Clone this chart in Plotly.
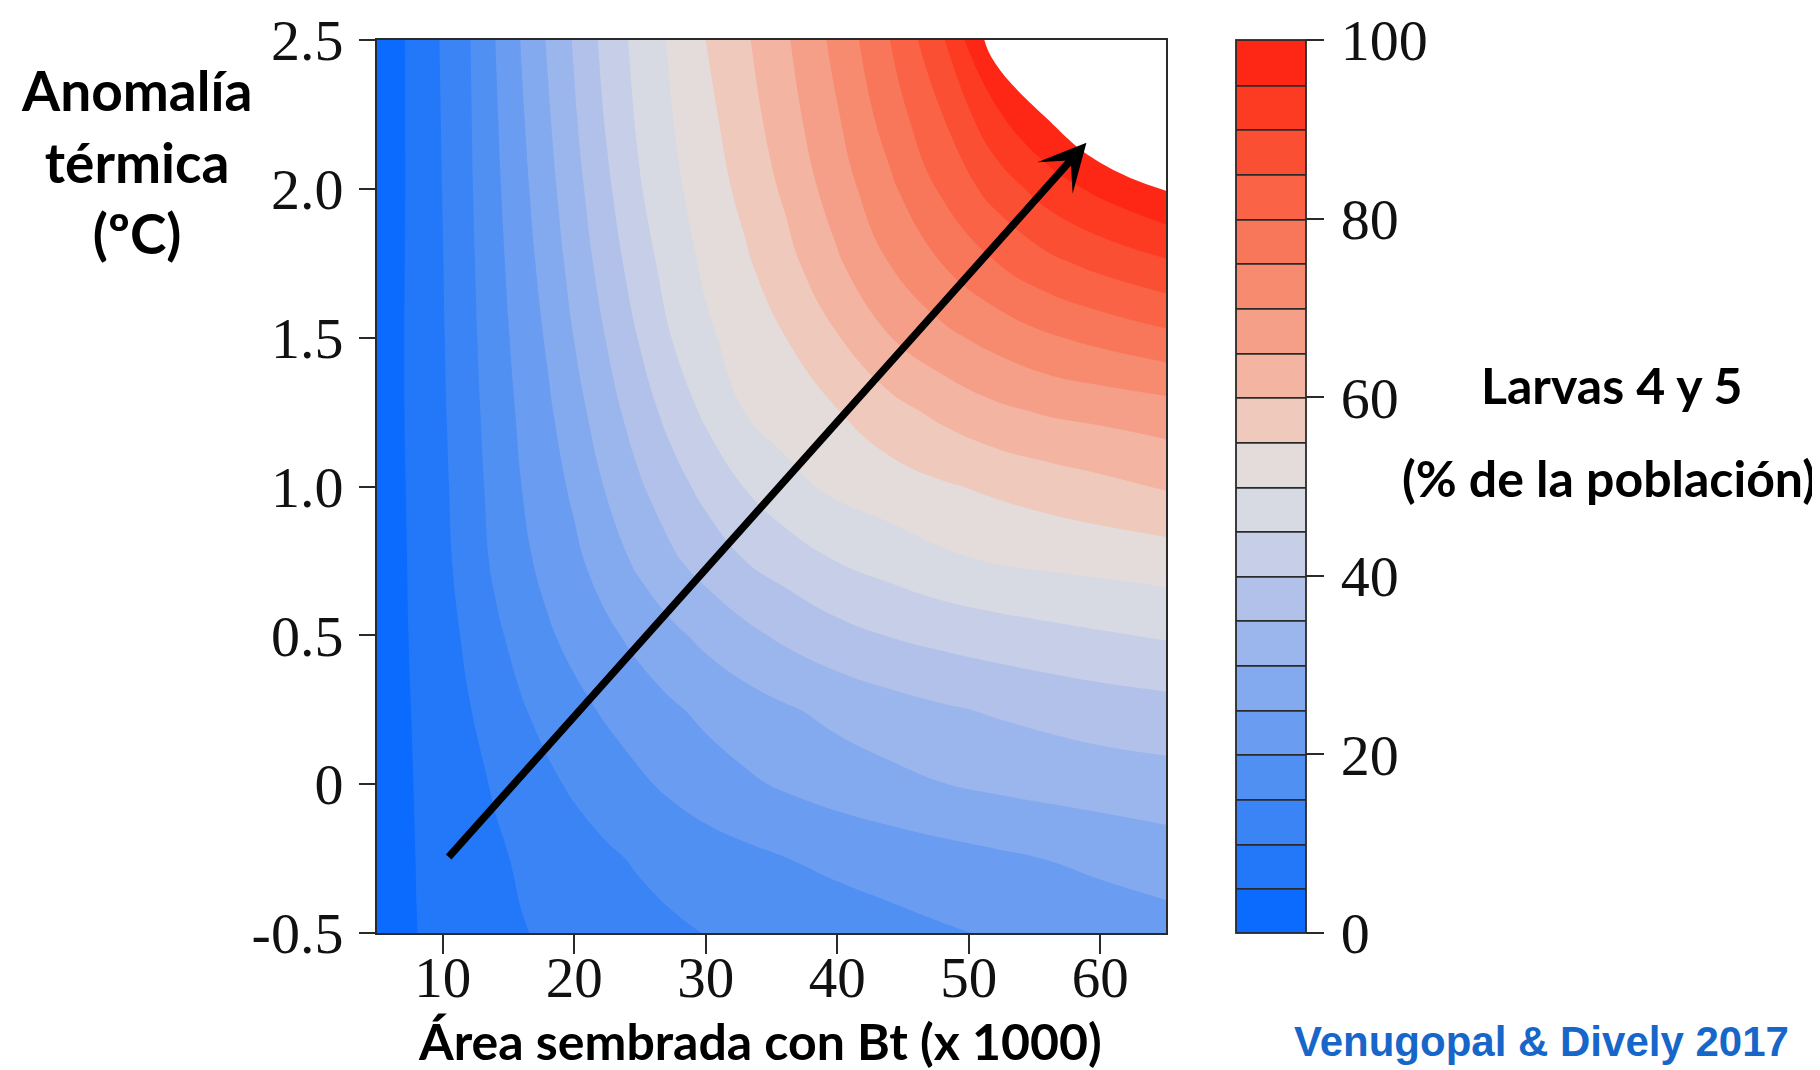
import plotly.graph_objects as go

# ---------------- data ----------------
area_bt = [5, 6.5, 8, 10, 12, 14, 16, 18, 20, 22.5, 25, 27.5, 30, 33, 36, 40, 44, 48, 52, 56, 60, 65]
temp_anom = [-0.5, -0.25, 0.0, 0.25, 0.5, 0.75, 1.0, 1.25, 1.5, 1.75, 2.0, 2.25, 2.5]

larvae_m050 = [2.2, 3.8, 4.95, 6.1, 7.35, 8.55, 9.75, 10.6, 11.4, 12.3, 13.3, 14.3, 15.1, 15.8, 16.6, 17.5, 18.5, 19.5, 20.4, 21.5, 22.2, 23]
larvae_m025 = [1.8, 3.7, 5.07, 6.5, 7.9, 9.3, 10.6, 11.8, 12.9, 14.3, 15.6, 16.7, 17.7, 18.8, 19.9, 21.1, 22.1, 23.1, 24.1, 25.1, 26.1, 27.5]
larvae_000 = [1.5, 3.6, 5.26, 7.0, 8.7, 10.45, 12.3, 14.1, 15.7, 17.5, 19.3, 21.0, 22.6, 24.2, 25.6, 27.2, 28.6, 29.9, 30.9, 31.7, 32.4, 33]
larvae_025 = [1.5, 3.7, 5.5, 7.66, 9.8, 12.2, 14.6, 16.6, 18.6, 20.7, 22.6, 24.4, 26.1, 27.8, 29.4, 31.4, 33.0, 34.4, 35.5, 36.5, 37.4, 38.2]
larvae_050 = [1.5, 3.9, 5.75, 8.25, 10.9, 14.1, 16.8, 19.4, 21.5, 24.0, 26.5, 29.0, 31.25, 33.75, 35.97, 38.4, 40.2, 41.5, 42.6, 43.6, 44.5, 45.5]
larvae_075 = [1.5, 3.9, 6.0, 8.8, 12.2, 15.9, 18.9, 21.5, 23.9, 27.5, 31.1, 34.3, 37.0, 40.0, 42.2, 45.1, 47.0, 49.0, 50.3, 51.0, 51.6, 52.4]
larvae_100 = [1.5, 4.0, 6.2, 9.1, 12.85, 16.6, 20.0, 22.9, 25.9, 30.5, 34.5, 38.1, 41.5, 45.2, 48.4, 51.1, 52.8, 54.45, 55.9, 57.3, 58.7, 60.45]
larvae_125 = [1.5, 4.1, 6.4, 9.45, 13.3, 17.25, 20.9, 24.2, 28.15, 33.0, 37.6, 41.9, 45.9, 50.05, 52.1, 54.8, 58.2, 61.2, 63.8, 65.5, 66.4, 67.6]
larvae_150 = [1.5, 4.1, 6.45, 9.7, 13.7, 17.9, 21.8, 25.65, 30.1, 35.3, 40.4, 45.2, 49.1, 52.2, 54.9, 59.7, 64.85, 68.7, 71.7, 74.4, 76.4, 78.7]
larvae_175 = [1.5, 4.0, 6.46, 9.9, 14.0, 18.45, 22.7, 27.1, 31.8, 37.4, 42.8, 47.3, 50.9, 54.3, 58.2, 64.35, 70.1, 75.1, 79.8, 83.7, 86.5, 89.3]
larvae_200 = [1.5, 3.9, 6.46, 10.1, 14.3, 19.0, 23.6, 28.4, 33.2, 39.2, 44.7, 48.9, 52.4, 56.4, 60.8, 67.5, 74.0, 80.8, 87.0, 92.3, 96.25, 100.3]
larvae_225 = [1.5, 3.9, 6.5, 10.3, 14.5, 19.5, 24.5, 29.5, 34.5, 40.7, 46.0, 50.0, 53.7, 58.0, 62.8, 69.7, 77.4, 85.0, 94.0, 100.6, 107, 115]
larvae_250 = [1.5, 3.9, 6.56, 10.5, 14.7, 20.0, 25.3, 30.5, 35.5, 41.8, 46.8, 50.8, 55.0, 59.3, 64.2, 71.5, 80.0, 89.4, 102.7, 109, 116, 124]

larvae_pct = [larvae_m050, larvae_m025, larvae_000, larvae_025, larvae_050, larvae_075,
              larvae_100, larvae_125, larvae_150, larvae_175, larvae_200, larvae_225, larvae_250]

x_ticks = [10, 20, 30, 40, 50, 60]
y_ticks = [-0.5, 0, 0.5, 1.0, 1.5, 2.0, 2.5]
y_ticklabels = ["-0.5", "0", "0.5", "1.0", "1.5", "2.0", "2.5"]
cb_ticks = [0, 20, 40, 60, 80, 100]

# arrow (tail -> head) in data units
arrow_tail = (10.35, -0.25)
arrow_head = (58.95, 2.155)

# 20 band colours: 0-5 ... 95-100
band_colors = [
    "#0b6bff", "#2278f9", "#3a84f6", "#5090f3", "#6a9cf1",
    "#83aaef", "#9bb6ec", "#b1c1ea", "#c6cee8", "#d8dae3",
    "#e4dcdb", "#f0c9bd", "#f3b4a2", "#f59f88", "#f78b70",
    "#f8775b", "#fa6346", "#fb4f33", "#fd3b22", "#fe2614",
]

# ---------------- colour scales ----------------
# main trace: levels 0..100 step 5 -> band k is coloured at (5k+5)/105, above 100 white
main_cs = [[0.0, band_colors[0]]]
for k, c in enumerate(band_colors):
    main_cs.append([(5 * k + 5) / 105.0, c])
main_cs.append([1.0, "#ffffff"])

# colour bar: hard steps of 5 between 0 and 100
n_bands = len(band_colors)
cb_cs = []
for k, c in enumerate(band_colors):
    cb_cs.append([k / n_bands, c])
    cb_cs.append([(k + 1) / n_bands, c])

serif = "Liberation Serif"
sans = "Lato"

fig = go.Figure()

fig.add_trace(go.Contour(
    x=area_bt, y=temp_anom, z=larvae_pct,
    colorscale=main_cs,
    contours=dict(start=0, end=100, size=5, coloring="fill", showlines=False),
    line=dict(width=0, smoothing=1.3),
    showscale=False,
    hoverinfo="skip",
))

# trace kept out of view (tiny hidden subplot inside the white corner),
# only used to draw the banded colour bar with separators
fig.add_trace(go.Contour(
    x=area_bt, y=temp_anom, z=larvae_pct,
    xaxis="x2", yaxis="y2",
    colorscale=cb_cs, zauto=False, zmin=0, zmax=100,
    contours=dict(start=5, end=95, size=5, coloring="heatmap", showlines=True),
    line=dict(width=1.8, color="#2a2a2a"),
    showscale=True,
    hoverinfo="skip",
    colorbar=dict(
        thickness=70, thicknessmode="pixels",
        len=1, lenmode="fraction",
        x=1.0887, xanchor="left", y=0.5, yanchor="middle",
        xpad=0, ypad=0,
        outlinewidth=1.8, outlinecolor="#2a2a2a",
        tickvals=cb_ticks, ticktext=["\u200a" + str(v) for v in cb_ticks],
        ticks="outside", ticklen=18, tickwidth=1.6, tickcolor="#2a2a2a",
        tickfont=dict(family=serif, size=58, color="#111111"),
    ),
))

fig.update_layout(
    width=1820, height=1070,
    margin=dict(l=369, r=662, t=32, b=145, autoexpand=False),
    paper_bgcolor="white", plot_bgcolor="white",
    showlegend=False,
    xaxis=dict(
        range=[5, 65], tickvals=x_ticks, ticktext=[str(v) for v in x_ticks],
        ticks="outside", ticklen=19, tickwidth=1.6, tickcolor="#2a2a2a",
        showline=True, linecolor="#2a2a2a", linewidth=2, mirror=True,
        showgrid=False, zeroline=False,
        tickfont=dict(family=serif, size=57, color="#111111"),
        ticklabelstandoff=-25,
    ),
    yaxis=dict(
        range=[-0.5, 2.5], tickvals=y_ticks, ticktext=y_ticklabels,
        ticks="outside", ticklen=16, tickwidth=1.6, tickcolor="#2a2a2a",
        showline=True, linecolor="#2a2a2a", linewidth=2, mirror=True,
        showgrid=False, zeroline=False,
        tickfont=dict(family=serif, size=58, color="#111111"),
        ticklabelstandoff=4,
    ),
    xaxis2=dict(domain=[0.992, 1.0], anchor="y2", visible=False, range=[1000, 1001]),
    yaxis2=dict(domain=[0.992, 1.0], anchor="x2", visible=False, range=[1000, 1001]),
)

annotations = [
    dict(text="<b>Anomalía<br>térmica<br>(ºC)</b>", xref="paper", yref="paper",
         x=-0.305, y=0.864, xanchor="center", yanchor="middle", showarrow=False,
         font=dict(family=sans, size=55, color="black")),
    dict(text="<b>Área sembrada con Bt (x 1000)</b>", xref="paper", yref="paper",
         x=0.486, y=-0.1205, xanchor="center", yanchor="middle", showarrow=False,
         font=dict(family=sans, size=50, color="black")),
    dict(text="<b>Larvas 4 y 5</b>", xref="paper", yref="paper",
         x=1.565, y=0.614, xanchor="center", yanchor="middle", showarrow=False,
         font=dict(family=sans, size=50, color="black")),
    dict(text="<b>(% de la población)</b>", xref="paper", yref="paper",
         x=1.562, y=0.51, xanchor="center", yanchor="middle", showarrow=False,
         font=dict(family=sans, size=50, color="black")),
    dict(text="<b>Venugopal & Dively 2017</b>", xref="paper", yref="paper",
         x=1.476, y=-0.121, xanchor="center", yanchor="middle", showarrow=False,
         font=dict(family="Liberation Sans", size=42, color="#1766c9")),
    dict(text="", xref="x", yref="y", axref="x", ayref="y",
         x=arrow_head[0], y=arrow_head[1], ax=arrow_tail[0], ay=arrow_tail[1],
         showarrow=True, arrowhead=3, arrowsize=1.05, arrowwidth=7.5,
         arrowcolor="black", standoff=0, startstandoff=0),
]
fig.update_layout(annotations=annotations)

fig.write_html("out.html")
